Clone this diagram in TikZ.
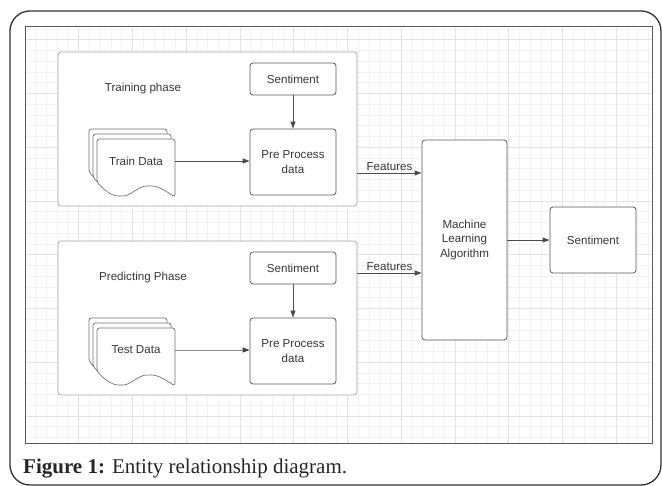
\documentclass[tikz,border=0pt]{standalone}
\usepackage{fontspec}
\setmainfont{Liberation Serif}
\newfontfamily\diagfont{Liberation Sans}
\usetikzlibrary{arrows.meta}

\begin{document}
\begin{tikzpicture}[x=1pt,y=-1pt,
  lbl/.style={font=\diagfont\fontsize{11.6}{14.5}\selectfont, text=black!78},
  panel/.style={draw=black!35, fill=white, rounded corners=3pt, line width=0.7pt},
  stage/.style={lbl, draw=black!65, fill=white, rounded corners=3pt, line width=0.8pt, align=center, inner sep=0pt},
  arr/.style={draw=black!70, line width=0.8pt, -{Triangle[length=7pt,width=5pt]}},
  softarr/.style={draw=black!45, line width=0.8pt, -{Triangle[length=7pt,width=5pt,color=black!75]}},
  page/.style={draw=black!55, fill=white, line width=0.7pt},
  minorline/.style={black!5, line width=0.6pt},
  majorline/.style={black!11, line width=0.6pt}]

\useasboundingbox (0,0) rectangle (662,486);

% outer frame of the figure
\draw[black!80, line width=1.3pt, rounded corners=20pt] (10,11) rectangle (661,485);

% grid canvas
\fill[white] (25,27) rectangle (652,444);
\foreach \i in {0,...,58} {
  \draw[minorline] (25+10.75*\i,27) -- (25+10.75*\i,444);
}
\foreach \k in {0,...,38} {
  \draw[minorline] (25,29+10.75*\k) -- (652,29+10.75*\k);
}
\foreach \i in {0,5,...,55} {
  \draw[majorline] (25+10.75*\i,27) -- (25+10.75*\i,444);
}
\foreach \k in {1,6,...,36} {
  \draw[majorline] (25,29+10.75*\k) -- (652,29+10.75*\k);
}
\draw[black!65, line width=1pt] (25,27) rectangle (652,444);

% phase panels
\node[panel, minimum width=299pt, minimum height=154pt] (trainpanel) at (207.5,129) {};
\node[panel, minimum width=299pt, minimum height=154pt] (predpanel) at (207.5,318) {};
\node[lbl] (traintitle) at (143,89) {Training phase};
\node[lbl] (predtitle) at (143,278) {Predicting Phase};

% stacked document shapes
\foreach \ox/\oy in {97/139, 97/328} {
  \foreach \dx/\dy in {-8/-10,-4/-5,0/0} {
    \begin{scope}[shift={(\ox+\dx,\oy+\dy)}]
      \draw[page, rounded corners=2.5pt] (0,43) -- (0,0) -- (78,0) -- (78,58)
        .. controls (70,53) and (62,47) .. (52,47)
        .. controls (42,47) and (33,57) .. (24,57)
        .. controls (14,57) and (6,50) .. (0,43) -- cycle;
    \end{scope}
  }
}
\node[lbl, minimum width=78pt, inner sep=0pt] (traindoc) at (136,161) {Train Data};
\node[lbl, minimum width=78pt, inner sep=0pt] (testdoc) at (136,350) {Test Data};

% processing stages
\node[stage, minimum width=86pt, minimum height=32pt] (sent1) at (293,79) {Sentiment};
\node[stage, minimum width=86pt, minimum height=66pt] (pre1) at (293,162) {Pre Process\\data};
\node[stage, minimum width=86pt, minimum height=32pt] (sent2) at (293,268) {Sentiment};
\node[stage, minimum width=86pt, minimum height=66pt] (pre2) at (293,351) {Pre Process\\data};
\node[stage, minimum width=85pt, minimum height=200pt] (ml) at (464.5,240) {Machine\\Learning\\Algorithm};
\node[stage, minimum width=86pt, minimum height=66pt] (out) at (593,240) {Sentiment};

% connectors
\draw[arr] (sent1) -- (pre1);
\draw[arr] (sent2) -- (pre2);
\draw[arr] (traindoc.east) -- (traindoc.east -| pre1.west);
\draw[softarr] (testdoc.east) -- (testdoc.east -| pre2.west);
\coordinate (f1) at ([yshift=-44pt]trainpanel.east);
\coordinate (f2) at ([yshift=45pt]predpanel.east);
\draw[arr] (f1) -- (f1 -| ml.west) node[lbl, midway, above, inner sep=1.5pt] {Features};
\draw[arr] (f2) -- (f2 -| ml.west) node[lbl, midway, above, inner sep=1.5pt] {Features};
\draw[arr] (ml) -- (out);

% caption
\node[anchor=base west, inner sep=0pt, text=black!85, font=\fontsize{21}{25}\selectfont] (caption) at (23,474)
  {\textbf{Figure 1:} Entity relationship diagram.};
\end{tikzpicture}
\end{document}
